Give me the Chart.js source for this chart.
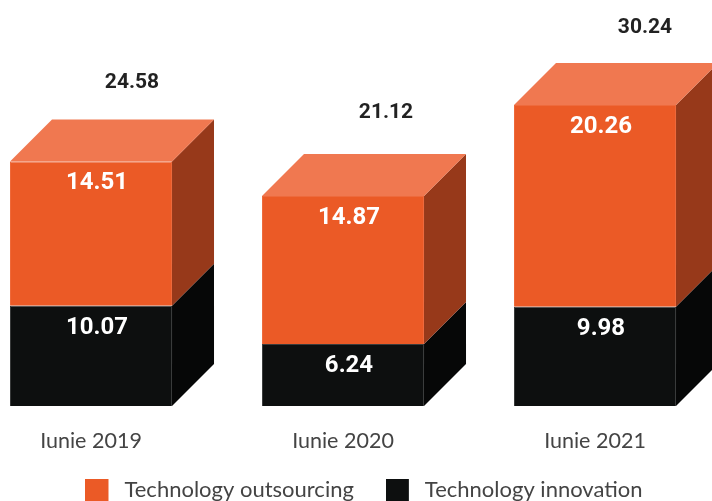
<!DOCTYPE html>
<html>
<head>
<meta charset="utf-8">
<script src="https://cdn.jsdelivr.net/npm/chart.js@4"></script>
<style>
  html, body { margin: 0; padding: 0; width: 712px; height: 501px; overflow: hidden; background: #fff; }
  #chart { position: absolute; left: -40px; top: 0; }
</style>
</head>
<body>
<canvas id="chart" width="806" height="516"></canvas>
<script>
const categories = ['Iunie 2019', 'Iunie 2020', 'Iunie 2021'];
const outsourcing = [14.51, 14.87, 20.26];
const innovation = [10.07, 6.24, 9.98];
const totals = [24.58, 21.12, 30.24];
const seriesNames = ['Technology innovation', 'Technology outsourcing'];

const DEPTH = 42;
const frontColors = ['#0d0f0f', '#eb5a26'];
const edgeColors = ['#3a3c3c', '#ee6a3c'];
const sideColors = ['#060707', '#97391a'];
const topColor = '#f07850';
// the totals float up and to the right of each box, not evenly
const totalNudge = [[41, -79], [43, -83], [50, -77]];

function poly(ctx, pts, color) {
  ctx.fillStyle = color;
  ctx.beginPath();
  pts.forEach((p, i) => i ? ctx.lineTo(p[0], p[1]) : ctx.moveTo(p[0], p[1]));
  ctx.closePath();
  ctx.fill();
}

// legend square with a clear strip on its right, the gap to the text is wider than chart.js gives
function legendMark(color) {
  const c = document.createElement('canvas');
  c.width = 28;
  c.height = 23;
  const g = c.getContext('2d');
  g.fillStyle = color;
  g.fillRect(0, 0, 23, 23);
  return c;
}

const boxes = {
  id: 'boxes',
  // legend is centred on the page, not on the (off-page) plot area,
  // and it sits closer to the tick labels than the axis box allows
  afterLayout(chart) {
    chart.legend.left += 21;
    chart.legend.right += 21;
    chart.legend.top -= 5;
    chart.legend.bottom -= 5;
  },
  beforeDatasetsDraw(chart) {
    const ctx = chart.ctx;
    chart.data.datasets.forEach((ds, i) => {
      chart.getDatasetMeta(i).data.forEach(bar => {
        const x1 = bar.x - bar.width / 2, x2 = bar.x + bar.width / 2;
        poly(ctx, [[x2, bar.y], [x2 + DEPTH, bar.y - DEPTH], [x2 + DEPTH, bar.base - DEPTH], [x2, bar.base]], sideColors[i]);
        if (i === 1) {
          poly(ctx, [[x1, bar.y], [x1 + DEPTH, bar.y - DEPTH], [x2 + DEPTH, bar.y - DEPTH], [x2, bar.y]], topColor);
        }
      });
    });
  },
  afterDatasetsDraw(chart) {
    const ctx = chart.ctx;
    ctx.save();
    ctx.textAlign = 'center';
    ctx.textBaseline = 'middle';
    ctx.fillStyle = '#fff';
    ctx.font = 'bold 24px Roboto';
    chart.data.datasets.forEach((ds, i) => {
      chart.getDatasetMeta(i).data.forEach((bar, j) => {
        ctx.fillText(ds.data[j].toFixed(2), bar.x + 6, bar.y + 22);
      });
    });
    ctx.fillStyle = '#222';
    ctx.font = 'bold 21px Roboto';
    chart.getDatasetMeta(1).data.forEach((bar, j) => {
      ctx.fillText(totals[j].toFixed(2), bar.x + totalNudge[j][0], bar.y + totalNudge[j][1]);
    });
    ctx.restore();
  }
};

new Chart(document.getElementById('chart'), {
  type: 'bar',
  data: {
    labels: categories,
    datasets: [
      { label: seriesNames[0], data: innovation, backgroundColor: frontColors[0], borderColor: edgeColors[0], borderWidth: 1 },
      { label: seriesNames[1], data: outsourcing, backgroundColor: frontColors[1], borderColor: edgeColors[1], borderWidth: 1 }
    ]
  },
  options: {
    responsive: false,
    animation: false,
    layout: { padding: { left: 5, right: 45, top: 8, bottom: 0 } },
    datasets: { bar: { categoryPercentage: 1, barPercentage: 0.643 } },
    plugins: {
      tooltip: { enabled: false },
      legend: {
        position: 'bottom',
        reverse: true,
        labels: {
          usePointStyle: true,
          pointStyleWidth: 28,
          boxHeight: 23,
          padding: 32,
          color: '#444',
          font: { family: 'Lato', size: 22 },
          generateLabels(chart) {
            return Chart.defaults.plugins.legend.labels.generateLabels(chart).map(item => ({
              ...item,
              pointStyle: legendMark(frontColors[item.datasetIndex])
            }));
          }
        }
      }
    },
    scales: {
      x: {
        stacked: true,
        grid: { display: false },
        border: { display: false },
        ticks: { color: '#444', padding: 16, font: { family: 'Lato', size: 21.5, lineHeight: 1 } },
        afterFit(scale) { scale.height = 46; }
      },
      y: { stacked: true, display: false, min: 0, max: 40 }
    }
  },
  plugins: [boxes]
});
</script>
</body>
</html>
